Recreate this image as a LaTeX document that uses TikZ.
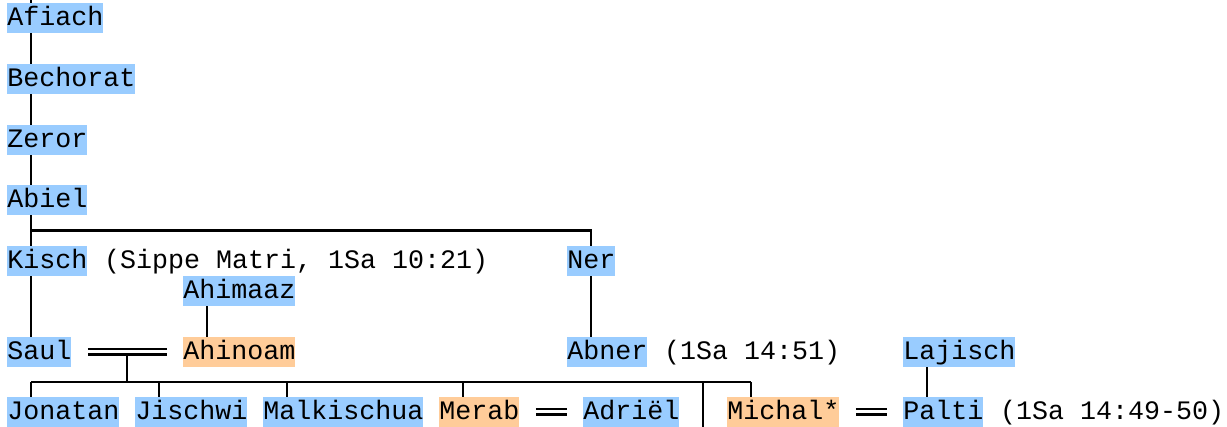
\documentclass[tikz,border=0pt]{standalone}
\usepackage{fontspec}
\setmonofont{Liberation Mono}
\usetikzlibrary{positioning,calc}
\definecolor{manblue}{RGB}{153,204,255}
\definecolor{womanorange}{RGB}{255,204,153}
\tikzset{
  person/.style={inner xsep=0pt, inner ysep=0pt, text height=11.5pt, text depth=3.5pt, anchor=west, font=\ttfamily\fontsize{13.33pt}{15pt}\selectfont},
  man/.style={person, fill=manblue},
  woman/.style={person, fill=womanorange},
  remark/.style={person},
  link/.style={line width=1.1pt},
  marriage/.style={double, double distance=1.5pt, line width=1.1pt}
}

\begin{document}
\begin{tikzpicture}[x=0.5pt,y=-0.5pt]
        \useasboundingbox (0,0) rectangle (1227,427);
        \node[man] (afiach) at (7,18) {Afiach};
        \node[man] (bechorat) at (7,79) {Bechorat};
        \node[man] (zeror) at (7,140) {Zeror};
        \node[man] (abiel) at (7,200) {Abiel};
        \node[man] (kisch) at (7,261) {Kisch};
        \node[remark, right=8pt of kisch] (kischref) {(Sippe Matri, 1Sa 10:21)};
        \node[man] (ner) at (567,261) {Ner};
        \node[man] (ahimaaz) at (183,291) {Ahimaaz};
        \node[man] (saul) at (7,352) {Saul};
        \node[woman] (ahinoam) at (183,352) {Ahinoam};
        \node[man] (abner) at (567,352) {Abner};
        \node[remark, right=8pt of abner] (abnerref) {(1Sa 14:51)};
        \node[man] (lajisch) at (903,352) {Lajisch};
        \node[man] (jonatan) at (7,412) {Jonatan};
        \node[man] (jischwi) at (135,412) {Jischwi};
        \node[man] (malkischua) at (263,412) {Malkischua};
        \node[woman] (merab) at (439,412) {Merab};
        \node[man] (adriel) at (583,412) {Adriël};
        \node[woman] (michal) at (727,412) {Michal*};
        \node[man] (palti) at (903,412) {Palti};
        \node[remark, right=8pt of palti] (paltiref) {(1Sa 14:49-50)};

        % father to son, the stem sits under the second letter
        \coordinate (top) at (31,0);
        \draw[link] (top) -- ([xshift=12pt]afiach.north west);
        \foreach \a/\b in {afiach/bechorat,bechorat/zeror,zeror/abiel,abiel/kisch,kisch/saul,ner/abner,ahimaaz/ahinoam,lajisch/palti}
          \draw[link] ([xshift=12pt]\a.south west) -- ([xshift=12pt]\b.north west);
        \coordinate (abielbus) at ($(abiel.south west)!.5!(kisch.north west)+(12pt,0)$);
        \draw[link] (abielbus) -| ([xshift=12pt]ner.north west);

        % children of Saul and Ahinoam
        \coordinate (couple) at ($(saul.east)!.5!(ahinoam.west)$);
        \coordinate (kidsbus) at ($(saul.south west)!.5!(jonatan.north west)+(12pt,0)$);
        \foreach \k in {jonatan,jischwi,malkischua,merab,michal}
          \coordinate (\k-top) at ([xshift=12pt]\k.north west);
        \draw[link] (couple) -- (couple |- kidsbus);
        \draw[link] (kidsbus) -- (kidsbus -| michal-top);
        \foreach \k in {jonatan,jischwi,malkischua,merab,michal}
          \draw[link] (kidsbus -| \k-top) -- (\k-top);
        \coordinate (more) at (703,427);
        \draw[link] (kidsbus -| more) -- (more);

        \draw[marriage] ([xshift=8pt]saul.east) -- ([xshift=-8pt]ahinoam.west);
        \draw[marriage] ([xshift=8pt]merab.east) -- ([xshift=-8pt]adriel.west);
        \draw[marriage] ([xshift=8pt]michal.east) -- ([xshift=-8pt]palti.west);
      \end{tikzpicture}
\end{document}
